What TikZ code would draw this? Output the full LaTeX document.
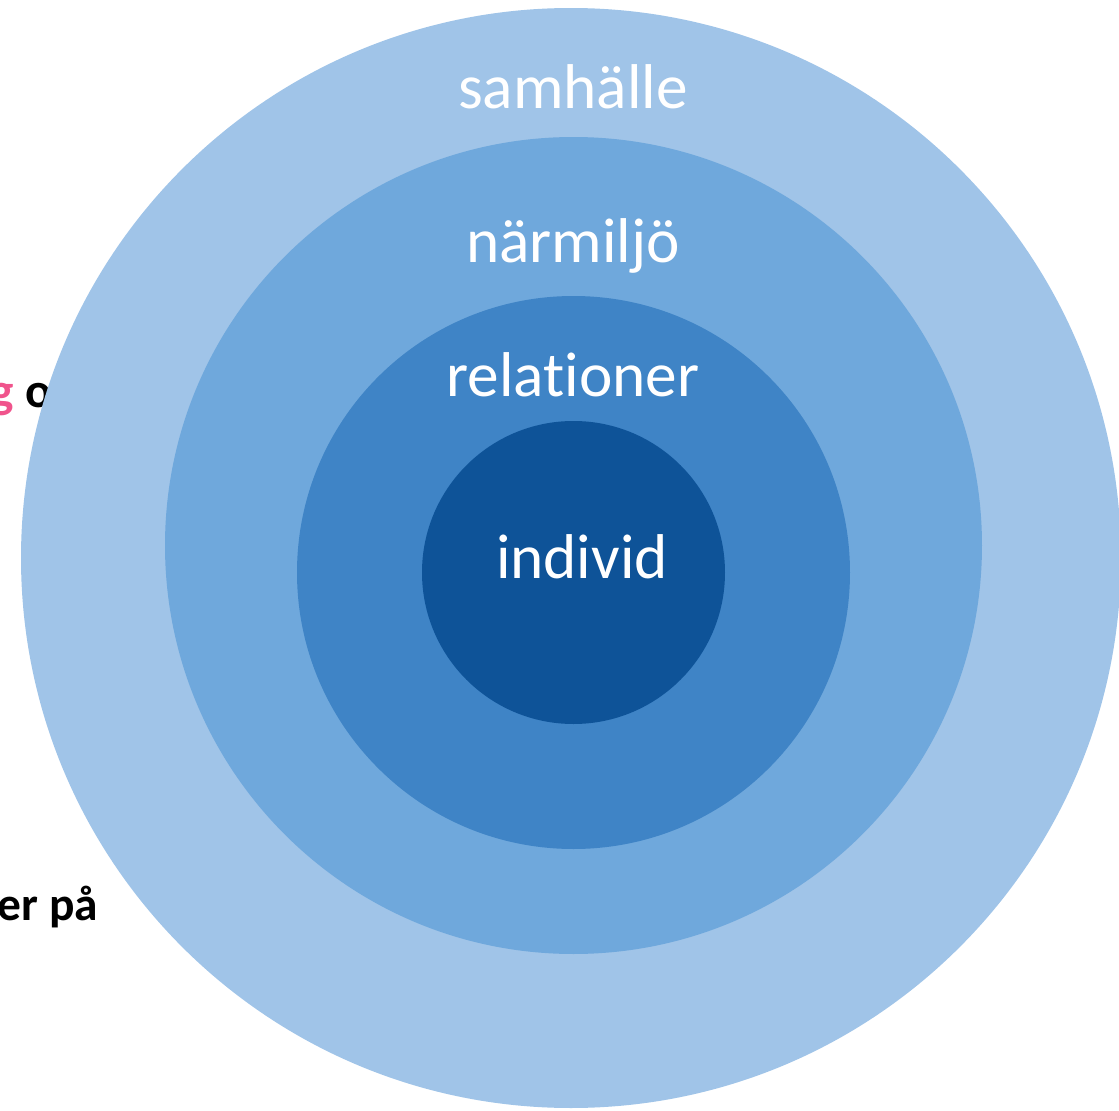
\documentclass[tikz,border=0pt]{standalone}
\usepackage{fontspec}
\setmainfont[Ligatures=NoCommon]{Carlito}
\usepackage{tikz}
\usetikzlibrary{positioning}
\usepackage{xcolor}
\definecolor{ring1}{RGB}{160,196,232}
\definecolor{ring2}{RGB}{111,168,220}
\definecolor{ring3}{RGB}{63,132,198}
\definecolor{ring4}{RGB}{14,83,152}
\definecolor{pinktext}{RGB}{240,84,140}

\begin{document}
\begin{tikzpicture}[every node/.style={inner sep=0pt}, lbl/.style={text=white,font=\fontsize{18}{22}\selectfont,anchor=base}]
    \useasboundingbox (0,0) rectangle (11.19,11.10);
    % text behind
    \node[anchor=base west,font=\bfseries\fontsize{14}{17}\selectfont] (t1) at (-0.1,7.03) {\textcolor{pinktext}{g} o};
    \node[anchor=base west,font=\bfseries\fontsize{13.5}{16}\selectfont] (t2) at (-0.03,1.90) {er på};
    % circles
    \node[circle,fill=ring1,minimum size=11.0cm] (c1) at (5.71,5.52) {};
    \node[circle,fill=ring2,minimum size=8.17cm] (c2) at (5.735,5.645) {};
    \node[circle,fill=ring3,minimum size=5.53cm] (c3) at (5.735,5.375) {};
    \node[circle,fill=ring4,minimum size=3.03cm] (c4) at (5.735,5.375) {};
    % labels
    \node[lbl] (l1) at (5.73,10.02) {samhälle};
    \node[lbl] (l2) at (5.73,8.48) {närmiljö};
    \node[lbl] (l3) at (5.73,7.14) {relationer};
    \node[lbl] (l4) at (5.82,5.32) {individ};
\end{tikzpicture}
\end{document}
